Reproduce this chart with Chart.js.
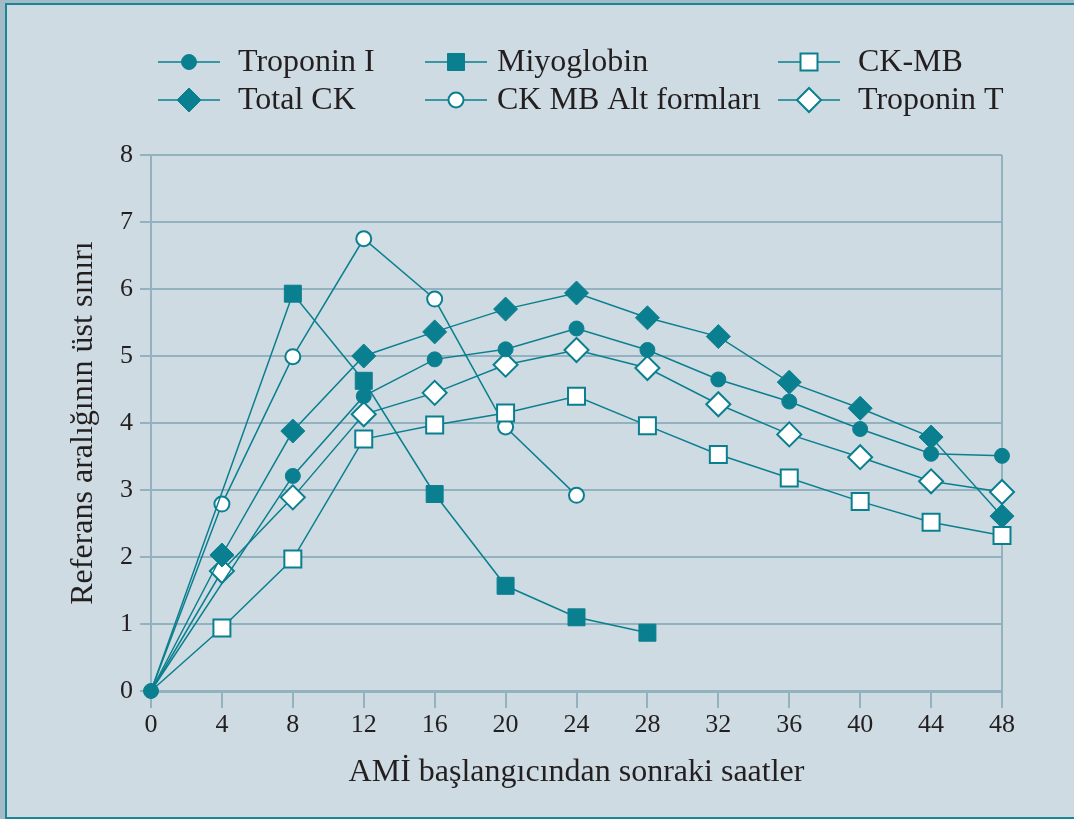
<!DOCTYPE html>
<html>
<head>
<meta charset="utf-8">
<script src="https://cdn.jsdelivr.net/npm/chart.js@4"></script>
<style>
  body { margin: 0; background: #a3bbc6; }
  #frame { position: absolute; left: 5px; top: 3px; width: 1069px; height: 812px;
           background: #cfdbe2; border-left: 2px solid #1a8595; border-top: 2px solid #1a8595; border-bottom: 2px solid #1a8595; }
  #wrap { position: absolute; left: 0; top: 0; width: 1074px; height: 819px; }
</style>
</head>
<body>
<div id="frame"></div>
<div id="wrap"><canvas id="amiChart" width="1074" height="819"></canvas></div>
<script>
// hours after AMI onset
const hours = [0, 4, 8, 12, 16, 20, 24, 28, 32, 36, 40, 44, 48];
const yTicks = [0, 1, 2, 3, 4, 5, 6, 7, 8];

const troponinI  = [0, null, 3.21, 4.40, 4.95, 5.10, 5.41, 5.09, 4.65, 4.32, 3.91, 3.54, 3.51];
const miyoglobin = [0, null, 5.93, 4.63, 2.94, 1.57, 1.10, 0.87, null, null, null, null, null];
const ckmb       = [0, 0.94, 1.97, 3.76, 3.97, 4.15, 4.40, 3.96, 3.53, 3.18, 2.83, 2.52, 2.32];
const totalCK    = [0, 2.03, 3.88, 5.00, 5.36, 5.70, 5.94, 5.57, 5.29, 4.61, 4.22, 3.79, 2.61];
const ckmbAlt    = [0, 2.79, 4.99, 6.75, 5.85, 3.94, 2.92, null, null, null, null, null, null];
const troponinT  = [0, 1.79, 2.89, 4.13, 4.45, 4.87, 5.09, 4.82, 4.28, 3.83, 3.49, 3.13, 2.97];

const teal = '#0a7f8f';
const gridCol = '#93b2c0';
const textCol = '#231f20';
const serif = '"Liberation Serif", "DejaVu Serif", serif';

function pts(arr) {
  return hours.map((h, i) => ({ x: h, y: arr[i] }));
}

// style per series: [label, data, pointStyle, radius, filled]
const series = [
  ['Troponin I', troponinI, 'circle', 7.5, true],
  ['Miyoglobin', miyoglobin, 'rect', 12, true],
  ['CK-MB', ckmb, 'rect', 12, false],
  ['Total CK', totalCK, 'rectRot', 12, true],
  ['CK MB Alt formları', ckmbAlt, 'circle', 7.5, false],
  ['Troponin T', troponinT, 'rectRot', 12, false]
];

const datasets = series.map((s, k) => ({
  label: s[0],
  data: pts(s[1]),
  borderColor: teal,
  borderWidth: 1.5,
  pointStyle: s[2],
  pointRadius: ctx => (ctx.dataIndex === 0 && k !== 0) ? 0 : s[3],
  pointHoverRadius: s[3],
  pointBackgroundColor: s[4] ? teal : '#ffffff',
  pointBorderColor: teal,
  pointBorderWidth: s[4] ? 1 : 2,
  spanGaps: true,
  clip: false,
  fill: false,
  tension: 0
}));

// legend in 3 columns x 2 rows, drawn by hand
const legendPos = [
  [158, 62], [425, 62], [778, 62],
  [158, 100], [425, 100], [778, 100]
];
const legendTextX = [238, 497, 858, 238, 497, 858];

function marker(ctx, style, r, filled, x, y) {
  ctx.save();
  ctx.fillStyle = filled ? teal : '#ffffff';
  ctx.strokeStyle = teal;
  ctx.lineWidth = filled ? 1 : 2;
  ctx.beginPath();
  if (style === 'circle') {
    ctx.arc(x, y, r, 0, Math.PI * 2);
  } else if (style === 'rect') {
    const h = r * Math.SQRT1_2;
    ctx.rect(x - h, y - h, 2 * h, 2 * h);
  } else {
    ctx.moveTo(x, y - r); ctx.lineTo(x + r, y); ctx.lineTo(x, y + r); ctx.lineTo(x - r, y); ctx.closePath();
  }
  ctx.fill();
  ctx.stroke();
  ctx.restore();
}

const legendPlugin = {
  id: 'gridLegend',
  afterDraw(chart) {
    const ctx = chart.ctx;
    series.forEach((s, k) => {
      const [lx, ly] = legendPos[k];
      ctx.save();
      ctx.strokeStyle = teal;
      ctx.lineWidth = 1.5;
      ctx.beginPath();
      ctx.moveTo(lx, ly); ctx.lineTo(lx + 62, ly);
      ctx.stroke();
      ctx.restore();
      marker(ctx, s[2], s[3], s[4], lx + 31, ly);
      ctx.save();
      ctx.fillStyle = textCol;
      ctx.font = '32px ' + serif;
      ctx.textBaseline = 'middle';
      ctx.fillText(s[0], legendTextX[k], ly + 1);
      ctx.restore();
    });
  }
};

new Chart(document.getElementById('amiChart').getContext('2d'), {
  type: 'line',
  data: { datasets: datasets },
  options: {
    responsive: false,
    animation: false,
    layout: { padding: { top: 155, right: 72, left: 0, bottom: 0 } },
    plugins: {
      legend: { display: false },
      tooltip: { enabled: false }
    },
    scales: {
      x: {
        type: 'linear',
        min: 0,
        max: 48,
        afterFit: scale => { scale.height = 128; },
        afterBuildTicks: scale => { scale.ticks = hours.map(v => ({ value: v })); },
        border: { color: gridCol, width: 3 },
        grid: {
          color: ctx => (ctx.tick && ctx.tick.value === 48) ? gridCol : 'rgba(0,0,0,0)',
          tickColor: gridCol,
          lineWidth: 2,
          tickLength: 17
        },
        ticks: {
          color: textCol,
          font: { family: serif, size: 26 },
          padding: 2,
          maxRotation: 0,
          autoSkip: false
        },
        title: {
          display: true,
          text: 'AMİ başlangıcından sonraki saatler',
          color: textCol,
          font: { family: serif, size: 32 },
          padding: { top: 0, bottom: 27 }
        }
      },
      y: {
        min: 0,
        max: 8,
        afterFit: scale => { scale.width = 151; },
        afterBuildTicks: scale => { scale.ticks = yTicks.map(v => ({ value: v })); },
        border: { color: gridCol, width: 2 },
        grid: {
          color: gridCol,
          lineWidth: 2,
          tickLength: 11
        },
        ticks: {
          color: textCol,
          font: { family: serif, size: 26 },
          padding: 7
        },
        title: {
          display: true,
          text: 'Referans aralığının üst sınırı',
          color: textCol,
          font: { family: serif, size: 32 },
          padding: { top: 64, bottom: 0 }
        }
      }
    }
  },
  plugins: [legendPlugin]
});
</script>
</body>
</html>
